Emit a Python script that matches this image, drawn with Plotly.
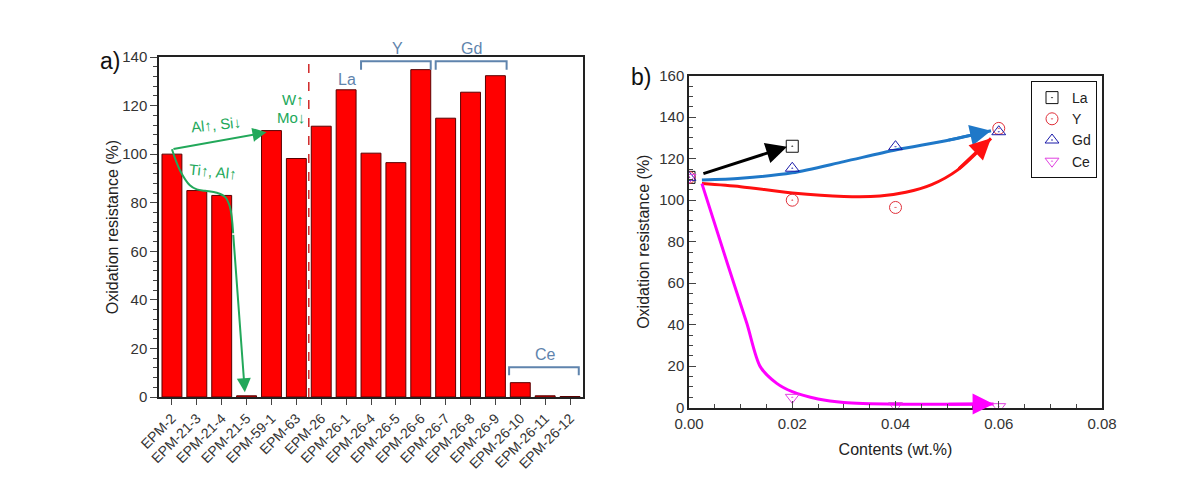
import plotly.graph_objects as go

# ---------------- data: panel a ----------------
samples = ["EPM-2", "EPM-21-3", "EPM-21-4", "EPM-21-5", "EPM-59-1", "EPM-63", "EPM-26",
           "EPM-26-1", "EPM-26-4", "EPM-26-5", "EPM-26-6", "EPM-26-7", "EPM-26-8",
           "EPM-26-9", "EPM-26-10", "EPM-26-11", "EPM-26-12"]
resistance = [100, 85, 83, 0.5, 109.7, 98.2, 111.5, 126.5, 100.4, 96.5, 134.8, 114.8,
              125.5, 132.3, 5.9, 0.5, 0.2]

# green hand-drawn trend curve (category index, value)
trend_x = [0, 0.32, 0.72, 1.0, 1.33, 1.8, 2.13, 2.33, 2.46, 2.93]
trend_y = [102, 93.4, 87.2, 85.5, 84.9, 84.1, 82.4, 78.3, 67.4, 2]

# ---------------- data: panel b ----------------
la_x = [0, 0.02]
la_y = [111, 126]
y_x = [0, 0.02, 0.04, 0.06]
y_y = [111, 100, 96.5, 134.6]
gd_x = [0, 0.02, 0.04, 0.06]
gd_y = [111, 115.4, 125.8, 133]
ce_x = [0, 0.02, 0.04, 0.06]
ce_y = [111, 5, 1, 0.5]

gd_fit_x = [0.0025, 0.01, 0.02, 0.03, 0.04, 0.05, 0.0585]
gd_fit_y = [109.7, 110.6, 113.2, 118.6, 124.2, 128.8, 133.5]
y_fit_x = [0.0025, 0.01, 0.02, 0.03, 0.037, 0.042, 0.047, 0.052, 0.0585]
y_fit_y = [108, 106.5, 103.5, 101.8, 102.0, 103.8, 107.5, 114.5, 129.8]
ce_fit_x = [0.0025, 0.0075, 0.0112, 0.0138, 0.017, 0.02, 0.025, 0.03, 0.04, 0.05, 0.059]
ce_fit_y = [108, 69, 40.7, 19.8, 11.7, 7.7, 4.2, 2.5, 1.7, 1.7, 1.8]

FONT = "Liberation Sans, Arial, sans-serif"
GREEN = "#22a85a"
BLUEGREY = "#5f84ad"
XI = list(range(len(samples)))

# the page body has an 8px margin; figure sized to fit inside the window
W, H = 1184, 476


def PX(px):
    return (px - 8) / W


def PY(py):
    return 1 - (py - 8) / H


fig = go.Figure()

# ---- panel a ----
fig.add_trace(go.Bar(x=XI, y=resistance, marker=dict(color="#ff0000", line=dict(color="#5a0000", width=1)),
                     width=0.8, showlegend=False, xaxis="x", yaxis="y"))
fig.add_trace(go.Scatter(x=trend_x[:-1], y=trend_y[:-1], mode="lines", line=dict(color=GREEN, width=2, shape="spline"),
                         showlegend=False, xaxis="x", yaxis="y", hoverinfo="skip"))

# ---- panel b ----
for fx, fy, col in [(gd_fit_x, gd_fit_y, "#1f78c8"), (y_fit_x, y_fit_y, "#ff1010"), (ce_fit_x, ce_fit_y, "#ff00ff")]:
    fig.add_trace(go.Scatter(x=fx, y=fy, mode="lines", line=dict(color=col, width=3, shape="spline", smoothing=0.8),
                             showlegend=False, xaxis="x2", yaxis="y2", hoverinfo="skip"))

for name, xs, ys, sym, col in [("La", la_x, la_y, "square-open-dot", "#111111"),
                               ("Y", y_x, y_y, "circle-open-dot", "#e0303a"),
                               ("Gd", gd_x, gd_y, "triangle-up-open-dot", "#1a1aa8"),
                               ("Ce", ce_x, ce_y, "triangle-down-open-dot", "#e040e0")]:
    fig.add_trace(go.Scatter(x=xs, y=ys, mode="markers", name=name,
                             marker=dict(symbol=sym, size=12, color=col, line=dict(color=col, width=1)),
                             xaxis="x2", yaxis="y2"))

ann = []
# green arrows
ann.append(dict(x=3.8, y=109, ax=0, ay=102, xref="x", yref="y", axref="x", ayref="y", text="",
                showarrow=True, arrowhead=2, arrowsize=1.4, arrowwidth=2, arrowcolor=GREEN))
ann.append(dict(x=trend_x[-1], y=trend_y[-1], ax=trend_x[-2], ay=trend_y[-2], xref="x", yref="y",
                axref="x", ayref="y", text="", showarrow=True, arrowhead=2, arrowsize=1.4, arrowwidth=2,
                arrowcolor=GREEN))
ann.append(dict(x=1.78, y=112, xref="x", yref="y", text="Al↑, Si↓", showarrow=False, textangle=-6,
                font=dict(color=GREEN, size=15, family=FONT)))
ann.append(dict(x=1.65, y=93, xref="x", yref="y", text="Ti↑, Al↑", showarrow=False, textangle=6,
                font=dict(color=GREEN, size=15, family=FONT)))
ann.append(dict(x=4.86, y=122.6, xref="x", yref="y", text="W↑", showarrow=False,
                font=dict(color=GREEN, size=15, family=FONT)))
ann.append(dict(x=4.8, y=115, xref="x", yref="y", text="Mo↓", showarrow=False,
                font=dict(color=GREEN, size=15, family=FONT)))
# group labels (paper coords so they can sit above the plot)
for t, px, py in [("La", 347, 79), ("Y", 397, 48), ("Gd", 471, 48), ("Ce", 545, 354)]:
    ann.append(dict(x=PX(px), y=PY(py), xref="paper", yref="paper", text=t, showarrow=False,
                    xanchor="center", yanchor="middle",
                    font=dict(color=BLUEGREY, size=16, family=FONT)))
# panel labels
ann.append(dict(x=PX(110), y=PY(61), xref="paper", yref="paper", text="a)", showarrow=False,
                xanchor="center", yanchor="middle", font=dict(size=23, family=FONT, color="#111")))
ann.append(dict(x=PX(641), y=PY(77), xref="paper", yref="paper", text="b)", showarrow=False,
                xanchor="center", yanchor="middle", font=dict(size=23, family=FONT, color="#111")))
# panel b arrows
ann.append(dict(x=0.019, y=125.8, ax=0.0025, ay=112.6, xref="x2", yref="y2", axref="x2", ayref="y2", text="",
                showarrow=True, arrowhead=2, arrowsize=1.4, arrowwidth=3, arrowcolor="#000000"))
for fx, fy, col in [(gd_fit_x, gd_fit_y, "#1f78c8"), (y_fit_x, y_fit_y, "#ff1010"), (ce_fit_x, ce_fit_y, "#ff00ff")]:
    ann.append(dict(x=fx[-1], y=fy[-1], ax=fx[-2], ay=fy[-2], xref="x2", yref="y2", axref="x2", ayref="y2",
                    text="", showarrow=True, arrowhead=2, arrowsize=1.4, arrowwidth=3, arrowcolor=col))

shapes = []
shapes.append(dict(type="line", x0=5.5, x1=5.5, y0=0, y1=140, xref="x", yref="y",
                   line=dict(color="#d02828", width=1.5, dash="dash")))
for x0, x1, ytop, ybot in [(7.6, 10.4, 138.2, 134.8), (10.6, 13.45, 138.2, 134.8), (13.55, 16.35, 12.3, 9.0)]:
    shapes.append(dict(type="path", xref="x", yref="y",
                       path=f"M {x0},{ybot} L {x0},{ytop} L {x1},{ytop} L {x1},{ybot}",
                       line=dict(color=BLUEGREY, width=2)))

axis_common = dict(showline=True, linecolor="#222", linewidth=1.5, mirror=True, showgrid=False, zeroline=False,
                   automargin=False)
TF = dict(family=FONT, size=15, color="#333")

fig.update_layout(
    width=W, height=H, margin=dict(l=0, r=0, t=0, b=0),
    paper_bgcolor="white", plot_bgcolor="white",
    font=dict(family=FONT, color="#222"),
    xaxis=dict(domain=[PX(159), PX(583)], anchor="y", range=[-0.52, 16.52],
               tickvals=XI, ticktext=samples, tickangle=-45, ticks="outside", ticklen=6,
               tickfont=dict(family=FONT, size=14, color="#333"), **axis_common),
    yaxis=dict(domain=[PY(397), PY(57)], anchor="x", range=[0, 140], dtick=20,
               ticks="outside", ticklen=7, minor=dict(dtick=4, ticks="outside", ticklen=4), tickfont=TF,
               title=dict(text="Oxidation resistance (%)", font=dict(size=16, family=FONT), standoff=0),
               **axis_common),
    xaxis2=dict(domain=[PX(689), PX(1102)], anchor="y2", range=[0, 0.08], dtick=0.02, tickformat=".2f",
                ticks="inside", ticklen=7, minor=dict(dtick=0.005, ticks="inside", ticklen=4), tickfont=TF,
                ticklabelstandoff=2,
                title=dict(text="Contents (wt.%)", font=dict(size=16, family=FONT), standoff=12),
                **axis_common),
    yaxis2=dict(domain=[PY(407.7), PY(75.7)], anchor="x2", range=[0, 160], dtick=20,
                ticks="inside", ticklen=7, minor=dict(dtick=5, ticks="inside", ticklen=4), tickfont=TF,
                title=dict(text="Oxidation resistance (%)", font=dict(size=16, family=FONT), standoff=6),
                **axis_common),
    legend=dict(x=PX(1097), y=PY(81), xanchor="right", yanchor="top", bordercolor="#111", borderwidth=1,
                bgcolor="white", font=dict(size=14, family=FONT, color="#222"), tracegroupgap=0, itemwidth=30),
    annotations=ann, shapes=shapes, bargap=0.2,
)

fig.write_html("out.html")
